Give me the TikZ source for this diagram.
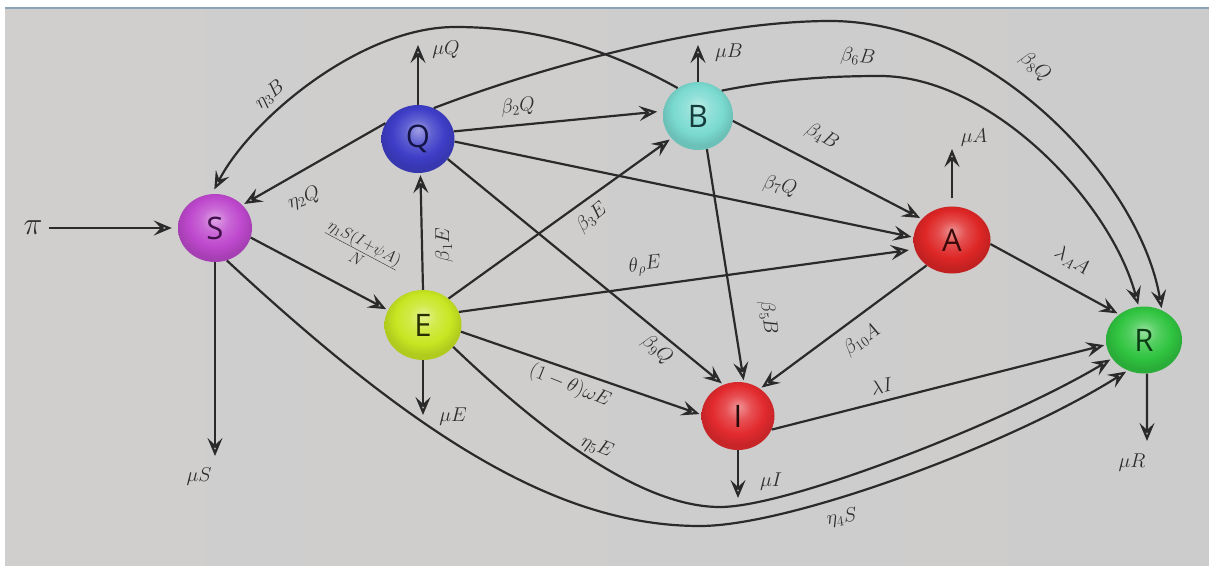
\RequirePackage{fix-cm}
\documentclass[tikz,border=0pt]{standalone}
\usepackage{fontspec}
\newfontfamily\ballfont{Open Sans}
\usetikzlibrary{arrows.meta,shapes.geometric}
\makeatletter
\pgfdeclareradialshading[tikz@ball]{softball}{\pgfpoint{0bp}{7bp}}{%
 color(0bp)=(tikz@ball!50!white);
 color(9bp)=(tikz@ball!82!white);
 color(18bp)=(tikz@ball);
 color(25bp)=(tikz@ball!88!black);
 color(50bp)=(tikz@ball!88!black)}
\makeatother
\definecolor{Scol}{RGB}{190,72,205}
\definecolor{Qcol}{RGB}{62,62,200}
\definecolor{Bcol}{RGB}{122,218,208}
\definecolor{Acol}{RGB}{222,38,38}
\definecolor{Ecol}{RGB}{200,230,34}
\definecolor{Icol}{RGB}{226,42,46}
\definecolor{Rcol}{RGB}{48,196,64}
\definecolor{linec}{RGB}{42,42,42}
\definecolor{labc}{RGB}{45,45,45}
\definecolor{bgl}{RGB}{208,207,206}
\definecolor{bgm}{RGB}{225,222,219}
\definecolor{bgr}{RGB}{205,204,204}
\definecolor{topline}{RGB}{140,164,182}
\begin{document}
\begin{tikzpicture}[x=1pt,y=1pt,
  comp/.style={ellipse, minimum width=74pt, minimum height=68pt, inner sep=0pt,
    font=\ballfont\fontsize{31}{33}\selectfont},
  sphere/.style={ball color=#1, shading=softball},
  flow/.style={draw=linec, line width=2.2pt, shorten >=2pt,
    -{Stealth[open,length=18pt,width=15pt,inset=7pt]}},
  lab/.style={font=\fontsize{20}{22}\selectfont, text=labc, inner sep=1pt}]
\useasboundingbox (0,0) rectangle (1209,-565);
\fill[white] (0,0) rectangle (1209,-565);
\shade[left color=bgl, middle color=bgm, right color=bgr] (5,-8) rectangle (1209,-565);
\draw[topline, line width=1.5pt] (5,-8) -- (1209,-8);

% compartments
\node[comp, sphere=Scol, text={rgb,255:red,64;green,16;blue,74}] (S) at (215,-228) {S};
\node[comp, sphere=Qcol, minimum width=73pt, text={rgb,255:red,20;green,20;blue,70}] (Q) at (418,-139) {Q};
\node[comp, sphere=Bcol, minimum width=70pt, text={rgb,255:red,20;green,60;blue,60}] (B) at (698,-116) {B};
\node[comp, sphere=Acol, minimum width=77pt, minimum height=67pt, text={rgb,255:red,60;green,10;blue,10}] (A) at (952,-240) {A};
\node[comp, sphere=Ecol, minimum width=77pt, minimum height=70pt, text={rgb,255:red,40;green,48;blue,0}] (E) at (423,-325) {E};
\node[comp, sphere=Icol, minimum width=73pt, text={rgb,255:red,40;green,10;blue,10}] (I) at (738,-416) {I};
\node[comp, sphere=Rcol, minimum width=76pt, minimum height=67pt, text={rgb,255:red,10;green,60;blue,20}] (R) at (1144,-340) {R};

% free ends
\node[font=\fontsize{32}{34}\selectfont, text=labc, inner sep=2pt] (pi) at (33,-228) {$\pi$};
\coordinate (muSend) at (215,-458);
\coordinate (muQend) at (418,-43);
\coordinate (muBend) at (698,-43);
\coordinate (muAend) at (952,-147);
\coordinate (muEend) at (423,-417);
\coordinate (muIend) at (738,-500);
\coordinate (muRend) at (1147,-443);
\coordinate (low4) at (700,-526);
\coordinate (low5) at (720,-507);
\coordinate (top3) at (455,-27);
\coordinate (top8) at (830,-21);
\coordinate (top6) at (880,-76);

% flows
\draw[flow, shorten <=4pt, shorten >=6pt] (pi.east) -- (S.west);
\draw[flow] (S.south) -- (muSend);
\draw[flow] (S.-15) -- (E.157);
\draw[flow] (S.-70) .. controls (420,-440) and (560,-526) .. (low4)
   .. controls (790,-526) and (1010,-445) .. (R.-118);
\draw[flow] (E.-36) .. controls (540,-430) and (640,-507) .. (low5)
   .. controls (790,-507) and (1010,-420) .. (R.-150);
\draw[flow] (Q.154) -- (S.40);
\draw[flow, shorten >=5pt] (B.126) .. controls (600,-45) and (530,-27) .. (top3)
   .. controls (360,-27) and (250,-120) .. (S.95);
\draw[flow] (Q.north) -- (muQend);
\draw[flow, shorten >=6pt] (Q.12) -- (B.172);
\draw[flow] (Q.-4) -- (A.176);
\draw[flow] (Q.-34) -- (I.115);
\draw[flow] (Q.63) .. controls (560,-60) and (720,-21) .. (top8)
   .. controls (990,-21) and (1140,-180) .. (R.59);
\draw[flow] (B.47) .. controls (780,-79) and (830,-76) .. (top6)
   .. controls (990,-76) and (1110,-200) .. (R.99);
\draw[flow] (B.north) -- (muBend);
\draw[flow] (B.-8) -- (A.145);
\draw[flow] (B.-75) -- (I.80);
\draw[flow] (E.north) -- (Q.-86);
\draw[flow] (E.46) -- (B.220);
\draw[flow, shorten >=6pt] (E.20) -- (A.194);
\draw[flow] (E.-10) -- (I.178);
\draw[flow] (E.south) -- (muEend);
\draw[flow, shorten <=8pt] (A.north) -- (muAend);
\draw[flow] (A.-6) -- (R.134);
\draw[flow] (A.225) -- (I.51);
\draw[flow] (I.-22) -- (R.187);
\draw[flow] (I.south) -- (muIend);
\draw[flow] (R.-85) -- (muRend);

% labels
\node[lab] (lmuS) at (199,-477) {$\mu S$};
\node[lab, font=\fontsize{23}{25}\selectfont, rotate=-28] (lfrac) at (361,-250) {$\frac{\eta_1 S(I+\psi A)}{N}$};
\node[lab, rotate=8] (leta4) at (842,-518) {$\eta_4 S$};
\node[lab, rotate=-22] (leta5) at (597,-447) {$\eta_5 E$};
\node[lab, rotate=20] (leta2) at (304,-198) {$\eta_2 Q$};
\node[lab, rotate=40] (leta3) at (270,-95) {$\eta_3 B$};
\node[lab] (lmuQ) at (446,-50) {$\mu Q$};
\node[lab, rotate=5] (lb2) at (518,-107) {$\beta_2 Q$};
\node[lab, rotate=-12] (lb7) at (780,-186) {$\beta_7 Q$};
\node[lab, rotate=-40] (lb9) at (657,-350) {$\beta_9 Q$};
\node[lab, rotate=-40] (lb8) at (1035,-67) {$\beta_8 Q$};
\node[lab, rotate=-5] (lb6) at (858,-57) {$\beta_6 B$};
\node[lab] (lmuB) at (729,-53) {$\mu B$};
\node[lab, rotate=-30] (lb4) at (822,-137) {$\beta_4 B$};
\node[lab, rotate=-82] (lb5) at (768,-318) {$\beta_5 B$};
\node[lab, rotate=40] (lb3) at (592,-218) {$\beta_3 E$};
\node[lab, rotate=90] (lb1) at (444,-245) {$\beta_1 E$};
\node[lab, rotate=7] (lth) at (645,-266) {$\theta_\rho E$};
\node[lab, rotate=-22] (lom) at (570,-386) {$(1-\theta)\omega E$};
\node[lab] (lmuE) at (453,-417) {$\mu E$};
\node[lab] (lmuA) at (974,-138) {$\mu A$};
\node[lab, rotate=-32] (llA) at (1072,-261) {$\lambda_A A$};
\node[lab, rotate=35] (lb10) at (862,-340) {$\beta_{10} A$};
\node[lab, rotate=12] (llI) at (882,-386) {$\lambda I$};
\node[lab] (lmuI) at (771,-482) {$\mu I$};
\node[lab] (lmuR) at (1132,-463) {$\mu R$};
\end{tikzpicture}
\end{document}
